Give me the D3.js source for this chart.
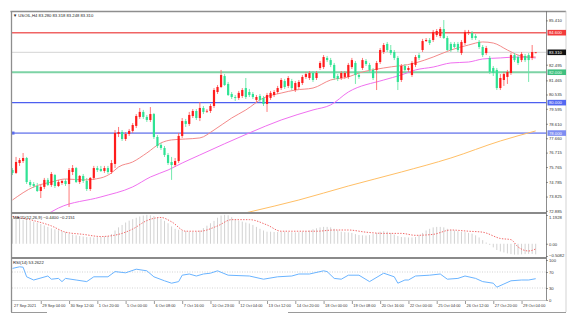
<!DOCTYPE html>
<html>
<head>
<meta charset="utf-8">
<script src="https://cdn.jsdelivr.net/npm/d3@7"></script>
<style>
  html, body { margin: 0; padding: 0; background: #ffffff; }
  svg { display: block; font-family: "Liberation Sans", Arial, sans-serif; }
</style>
</head>
<body>
<svg id="chart" width="574" height="324"></svg>
<script>
// ---------- data: USOIL H4 candles ----------
const symbolName = "USOIL,H4";

const opens = [75.57,75.38,76.03,76.16,76.36,74.78,74.65,74.52,74.19,74.46,
 74.92,74.59,75.24,74.52,74.72,74.85,74.65,75.44,75.70,74.78,
 75.18,74.85,74.32,75.05,75.70,75.64,75.51,75.70,75.44,75.97,
 77.94,78.07,77.61,77.94,78.14,78.47,79.06,79.39,79.06,78.86,
 79.25,77.74,77.22,77.02,76.56,76.10,75.90,76.16,77.81,78.79,
 78.60,79.12,79.45,78.99,79.65,79.45,79.45,79.78,80.70,81.03,
 81.75,81.23,80.57,80.37,80.31,80.44,80.96,80.70,80.57,80.18,
 80.44,80.31,79.91,80.31,80.50,80.70,80.96,81.42,81.10,81.42,
 80.83,81.03,81.29,81.69,81.62,81.95,81.62,82.28,82.34,82.94,
 82.80,82.48,81.75,81.62,81.69,81.69,82.34,82.61,81.82,82.28,
 82.74,82.48,82.15,82.15,82.67,83.33,83.86,83.46,83.33,82.94,
 81.49,82.41,82.15,81.82,82.48,83.13,83.46,84.05,84.12,84.12,
 84.45,84.38,84.84,84.25,83.86,83.86,83.86,83.26,83.92,84.58,
 84.58,84.38,83.99,83.66,83.26,82.94,82.28,82.15,80.96,81.49,
 81.69,81.95,83.13,83.00,82.80,83.07,83.13,82.94,83.28];

const highs = [75.70,76.43,76.36,76.69,76.43,74.92,74.78,74.72,74.59,75.05,
 75.05,75.44,75.31,74.92,74.92,74.98,75.70,75.90,75.77,75.24,
 75.31,75.05,75.11,75.84,75.84,75.84,75.84,75.84,76.23,78.20,
 78.40,78.20,78.07,78.27,78.66,79.25,79.65,79.52,79.19,79.71,
 79.32,77.87,77.35,77.15,76.69,76.43,76.36,78.01,78.99,78.93,
 79.39,79.58,79.58,80.04,79.78,79.58,79.91,80.96,81.16,82.15,
 81.88,81.36,80.70,80.50,80.77,80.96,81.62,80.90,80.70,80.50,
 80.57,80.44,80.64,80.77,80.83,81.10,81.62,81.56,81.75,81.56,
 81.42,81.49,81.82,82.02,82.08,82.08,82.08,82.74,83.13,83.07,
 82.94,82.61,81.88,82.08,82.08,82.61,82.94,82.74,82.02,82.94,
 82.87,82.61,82.28,82.74,83.59,83.92,83.99,83.79,83.46,83.07,
 82.54,82.54,82.41,82.74,83.13,83.26,84.19,84.25,84.25,84.78,
 84.84,84.97,85.43,84.38,83.99,83.99,83.99,84.12,84.78,84.78,
 84.71,84.51,84.12,83.79,83.73,83.07,82.41,82.28,81.88,82.02,
 82.15,83.26,83.26,83.13,83.33,83.20,83.26,83.79,83.318];

const lows = [75.24,75.31,75.84,76.03,74.65,74.46,74.39,74.13,73.73,74.32,
 74.52,74.46,74.39,74.46,74.59,74.52,73.14,75.24,74.72,74.65,
 74.72,74.19,74.19,74.92,75.44,75.44,75.38,75.31,75.31,75.70,
 77.74,77.48,77.48,77.81,78.01,78.33,78.93,78.93,78.73,78.73,
 77.61,77.02,76.89,76.43,75.90,74.92,75.77,76.03,77.68,78.40,
 78.47,78.99,78.86,78.79,79.25,79.32,79.32,79.65,80.57,80.96,
 81.10,80.44,80.24,80.11,80.18,80.31,80.24,80.37,80.24,80.04,
 80.04,79.78,79.39,80.18,80.37,80.57,80.83,80.90,80.96,80.83,
 80.70,80.90,81.16,81.56,81.49,81.36,81.49,82.15,82.21,82.67,
 82.34,81.49,81.42,81.49,81.56,81.56,82.21,81.23,81.56,82.15,
 82.41,82.02,81.49,80.83,82.54,83.20,83.33,83.13,82.80,80.83,
 81.36,82.02,82.02,81.69,82.34,82.80,83.33,83.99,83.79,83.99,
 84.32,84.25,84.19,83.40,83.33,83.59,83.33,83.13,83.79,84.45,
 84.12,84.12,83.53,83.00,83.13,81.88,81.75,80.83,80.83,81.10,
 81.23,81.82,82.67,82.48,82.67,82.67,81.36,82.80,83.248];

const closes = [75.38,76.10,76.23,76.36,74.78,74.59,74.52,74.19,74.46,74.92,
 74.59,75.31,74.52,74.78,74.85,74.65,75.57,75.70,74.78,75.18,
 74.85,74.32,75.05,75.70,75.57,75.51,75.70,75.44,76.03,78.01,
 78.07,77.61,77.94,78.14,78.53,79.12,79.39,79.06,78.86,79.25,
 77.74,77.15,77.02,76.56,76.03,75.90,76.16,77.81,78.79,78.60,
 79.19,79.45,78.99,79.65,79.39,79.46,79.78,80.83,81.03,81.82,
 81.16,80.50,80.37,80.31,80.64,80.83,80.37,80.50,80.37,80.37,
 80.18,79.91,80.50,80.64,80.70,80.96,81.49,81.03,81.62,80.96,
 81.29,81.36,81.69,81.88,81.95,81.49,81.95,82.61,83.00,82.80,
 82.48,81.62,81.56,81.95,81.95,82.48,82.80,81.82,81.69,82.80,
 82.54,82.15,81.62,82.61,83.46,83.79,83.46,83.26,82.94,81.36,
 82.41,82.15,82.28,82.61,83.00,82.94,84.05,84.12,83.92,84.65,
 84.71,84.84,84.25,83.46,83.46,83.66,83.46,83.99,84.65,84.65,
 84.25,84.25,83.66,83.13,83.59,82.02,81.95,80.96,81.62,81.88,
 82.02,83.13,82.80,82.61,83.20,82.80,82.80,83.33,83.310];

// moving averages (bar index, price)
const maFastIdx = [0,6,11,15,20,25,28,30,34,38,42,45,49,53,57,62,66,71,76,80,85,90,95,98,105,114,119,124,129,133,136,140,143,146,148];
const maFastVal = [73.60,74.46,74.78,74.98,74.92,75.05,75.38,75.77,76.10,76.69,77.35,77.55,77.61,77.68,78.20,78.99,79.52,80.31,80.63,80.83,80.96,81.49,81.69,81.95,82.28,82.61,83.00,83.46,83.79,83.99,83.92,83.46,83.13,83.00,83.00];
const maSlowIdx = [9,13,25,34,39,44,48,53,67,76,85,90,95,105,110,114,119,124,129,133,138,143,148];
const maSlowVal = [72.55,73.07,73.80,74.46,75.11,75.57,76.03,76.56,78.01,78.86,79.52,79.85,80.70,81.49,81.82,82.15,82.34,82.61,82.67,82.87,82.94,83.00,82.94];
const maLongIdx = [61,67,81,95,110,124,138,148];
const maLongVal = [72.48,72.81,73.60,74.52,75.44,76.36,77.48,78.14];

// horizontal price levels
const levelValues = [84.600, 82.000, 80.000, 78.000];

// MACD(12,26,9): main line per bar, signal line samples
const macdMain = [1.04,1.05,1.03,1.00,0.98,0.95,0.92,
 0.88,0.82,0.76,0.70,0.64,0.60,0.56,0.52,0.48,
 0.42,0.38,0.35,0.32,0.30,0.28,0.27,0.26,0.27,0.28,0.30,0.32,
 0.40,0.55,0.68,0.78,0.88,0.96,1.02,
 1.08,1.13,1.17,1.20,1.18,1.15,1.10,1.04,
 0.95,0.85,0.72,0.62,0.58,
 0.55,0.52,0.50,0.49,0.50,0.55,
 0.65,0.75,0.85,0.95,1.08,
 1.17,1.20,1.18,1.10,
 1.02,0.96,0.92,0.88,0.84,
 0.78,0.70,0.62,0.55,0.50,
 0.50,0.49,0.49,0.50,0.50,0.49,0.48,
 0.47,0.48,0.50,0.52,0.55,0.60,0.64,
 0.68,0.70,0.70,0.68,0.62,0.55,
 0.50,0.48,0.47,0.45,0.40,0.36,
 0.35,0.34,0.36,0.40,0.45,0.50,
 0.52,0.50,0.45,0.38,0.32,0.28,
 0.27,0.26,0.26,0.28,0.35,0.45,0.55,
 0.62,0.68,0.70,0.70,0.68,
 0.62,0.58,0.55,0.52,0.50,0.48,0.45,0.42,
 0.35,0.26,0.15,0.05,
 -0.05,-0.15,-0.26,-0.32,
 -0.36,-0.40,-0.43,-0.45,-0.45,-0.44,-0.43,-0.42,-0.42,-0.44];
const signalIdx = [0,6,11,15,20,25,30,34,38,42,45,49,53,58,62,67,72,76,81,86,91,95,100,105,110,114,119,124,129,133,138,141,143,146,148];
const signalVal = [1.13,0.96,0.74,0.48,0.39,0.30,0.39,0.61,0.96,1.09,0.91,0.52,0.52,0.74,1.00,1.00,0.78,0.52,0.52,0.52,0.57,0.57,0.48,0.43,0.43,0.35,0.39,0.57,0.52,0.48,0.22,0.17,-0.13,-0.30,-0.2151];
const macdAxisValues = [1.1928, 0.00, -0.5082];

// RSI(14) samples
const rsiIdx = [0,2,3,4,6,10,11,13,14,15,18,21,23,27,29,32,35,38,40,43,45,47,48,50,52,54,56,58,61,67,71,75,79,81,84,88,89,91,93,95,98,101,105,108,109,111,112,114,118,121,123,126,128,131,133,136,137,139,141,144,146,148];
const rsiVal = [79,83,82,58,50,60,52,54,46,54,50,46,58,58,71,68,77,73,58,48,42,46,62,65,60,65,67,73,62,60,52,58,60,65,65,73,71,54,52,62,62,46,67,58,42,50,50,60,62,65,52,54,60,54,46,42,32,40,48,50,50,53.2622];
const rsiLevels = [70, 30];
const rsiAxisValues = [100, 70, 30, 0];

// price scale labels (the two under the price boxes are left out) and time labels
const priceTicks = [85.410, 82.495, 81.465, 80.535, 79.595, 78.610, 77.660, 76.715, 75.765, 74.785, 73.825, 72.885];
const dateIdx = [0,8,16,24,32,40,48,56,64,72,80,88,96,104,112,120,128,136,144];
const dateLabels = ["27 Sep 2021","29 Sep 04:00","30 Sep 12:00","1 Oct 20:00","5 Oct 00:00","6 Oct 08:00","7 Oct 16:00","10 Oct 23:00","12 Oct 04:00","13 Oct 12:00","14 Oct 20:00","18 Oct 00:00","19 Oct 08:00","20 Oct 16:00","22 Oct 00:00","25 Oct 04:00","26 Oct 12:00","27 Oct 20:00","29 Oct 04:00"];

// ---------- layout ----------
const svg = d3.select("#chart");
const L = 12, R = 546;
const mainTop = 12, mainBot = 212;
const macdTop = 214, macdBot = 257;
const rsiTop = 259, rsiBot = 300;
const n = closes.length;

const x = d3.scaleLinear().domain([0, n - 1]).range([12.5, 535.7]);
const yMain = d3.scaleLinear().domain([72.81, 85.96]).range([mainBot, mainTop]);
const yMacd = d3.scaleLinear().domain([-0.5082, 1.1928]).range([256, 215]);
const yRsi = d3.scaleLinear().domain([0, 100]).range([rsiBot, rsiTop + 1]);

const defs = svg.append("defs");
function clip(id, y0, y1) {
  defs.append("clipPath").attr("id", id).append("rect")
    .attr("x", L).attr("y", y0).attr("width", R - L).attr("height", y1 - y0);
  return "url(#" + id + ")";
}
const gMain = svg.append("g").attr("clip-path", clip("cMain", mainTop, mainBot));
const gMacd = svg.append("g").attr("clip-path", clip("cMacd", macdTop, macdBot));
const gRsi = svg.append("g").attr("clip-path", clip("cRsi", rsiTop, rsiBot));

// ---------- main panel ----------
const last = n - 1;
// current price line
gMain.append("line").attr("x1", L).attr("x2", R)
  .attr("y1", yMain(closes[last])).attr("y2", yMain(closes[last]))
  .attr("stroke", "#d4d4d4").attr("stroke-width", 1);

const levelStyle = [
  {stroke: "#f06464", w: 1.6, op: 1, box: "#f23b3b", txt: "#ffffff"},
  {stroke: "#6fcf9c", w: 2.2, op: 0.9, box: "#3fbf7f", txt: "#e8fff2"},
  {stroke: "#4d5ff0", w: 1.1, op: 1, box: "#5368f2", txt: "#ffffff"},
  {stroke: "#8c98f0", w: 1.8, op: 1, box: "#7d8cf2", txt: "#ffffff"}
];
levelValues.forEach((v, k) => {
  gMain.append("line").attr("x1", L).attr("x2", R)
    .attr("y1", yMain(v)).attr("y2", yMain(v))
    .attr("stroke", levelStyle[k].stroke).attr("stroke-width", levelStyle[k].w)
    .attr("opacity", levelStyle[k].op);
});
// anchor square on the lowest level
gMain.append("rect").attr("x", L).attr("y", yMain(levelValues[3]) - 1.5)
  .attr("width", 2.5).attr("height", 3).attr("fill", "#5b6cf0");

// moving averages
function maLine(idx, vals, color, g, scale) {
  const pts = idx.map((d, k) => [d, vals[k]]);
  g.append("path").datum(pts)
    .attr("d", d3.line().x(d => x(d[0])).y(d => scale(d[1])).curve(d3.curveMonotoneX))
    .attr("fill", "none").attr("stroke", color).attr("stroke-width", 1);
}
maLine(maLongIdx, maLongVal, "#ffbf66", gMain, yMain);
maLine(maSlowIdx, maSlowVal, "#f070f0", gMain, yMain);
maLine(maFastIdx, maFastVal, "#f48a8a", gMain, yMain);

// candles
const bars = d3.range(n).map(i => ({i, o: opens[i], h: highs[i], l: lows[i], c: closes[i]}));
const isUp = d => d.c >= d.o;
gMain.selectAll("line.wick").data(bars).join("line").attr("class", "wick")
  .attr("x1", d => x(d.i)).attr("x2", d => x(d.i))
  .attr("y1", d => yMain(d.h)).attr("y2", d => yMain(d.l))
  .attr("stroke", d => isUp(d) ? "#ff6a6a" : "#66e6a6").attr("stroke-width", 0.9);
gMain.selectAll("rect.body").data(bars).join("rect").attr("class", "body")
  .attr("x", d => x(d.i) - 1.1).attr("width", 2.2)
  .attr("y", d => yMain(Math.max(d.o, d.c)))
  .attr("height", d => Math.max(0.8, Math.abs(yMain(d.o) - yMain(d.c))))
  .attr("fill", d => isUp(d) ? "#ff1c1c" : "#2fe394");

// ---------- MACD panel ----------
gMacd.selectAll("line.hist").data(macdMain).join("line").attr("class", "hist")
  .attr("x1", (d, i) => x(i)).attr("x2", (d, i) => x(i))
  .attr("y1", yMacd(0)).attr("y2", d => yMacd(d))
  .attr("stroke", "#d2d2d2").attr("stroke-width", 1);
gMacd.append("path").datum(signalIdx.map((d, k) => [d, signalVal[k]]))
  .attr("d", d3.line().x(d => x(d[0])).y(d => yMacd(d[1])).curve(d3.curveMonotoneX))
  .attr("fill", "none").attr("stroke", "#f26a6a").attr("stroke-width", 1)
  .attr("stroke-dasharray", "1.4,1.4");

// ---------- RSI panel ----------
rsiLevels.forEach(v => {
  gRsi.append("line").attr("x1", L).attr("x2", R).attr("y1", yRsi(v)).attr("y2", yRsi(v))
    .attr("stroke", "#c8c8c8").attr("stroke-width", 0.8).attr("stroke-dasharray", "1,1.5");
});
gRsi.append("path").datum(rsiIdx.map((d, k) => [d, rsiVal[k]]))
  .attr("d", d3.line().x(d => x(d[0])).y(d => yRsi(d[1])))
  .attr("fill", "none").attr("stroke", "#6ab4ff").attr("stroke-width", 1);

// ---------- frame ----------
const frame = svg.append("g");
frame.append("line").attr("x1", 10.5).attr("x2", 566).attr("y1", 11.5).attr("y2", 11.5)
  .attr("stroke", "#8e8e8e").attr("stroke-width", 1.3);
frame.append("line").attr("x1", 11.5).attr("x2", 11.5).attr("y1", 11).attr("y2", 312)
  .attr("stroke", "#8e8e8e").attr("stroke-width", 1.3);
frame.append("line").attr("x1", 566).attr("x2", 566).attr("y1", 11).attr("y2", 312)
  .attr("stroke", "#c8c8c8").attr("stroke-width", 0.8);
[[11, 47], [288, 566]].forEach(s => {
  frame.append("line").attr("x1", s[0]).attr("x2", s[1]).attr("y1", 312.5).attr("y2", 312.5)
    .attr("stroke", "#9a9a9a").attr("stroke-width", 1);
});
frame.append("line").attr("x1", R + 0.5).attr("x2", R + 0.5).attr("y1", 11).attr("y2", rsiBot)
  .attr("stroke", "#707070").attr("stroke-width", 0.8);
[mainBot + 1, macdBot + 1].forEach(yy => {
  frame.append("line").attr("x1", L - 1).attr("x2", R + 1).attr("y1", yy).attr("y2", yy)
    .attr("stroke", "#8a8a8a").attr("stroke-width", 2);
});
frame.append("line").attr("x1", L).attr("x2", R).attr("y1", rsiBot + 0.5).attr("y2", rsiBot + 0.5)
  .attr("stroke", "#b8b8b8").attr("stroke-width", 0.8);

// ---------- axes ----------
const fs = 4.2;
function styleAxis(g) {
  g.select(".domain").remove();
  g.selectAll(".tick line").attr("stroke", "#555").attr("stroke-width", 0.6);
  g.selectAll(".tick text").attr("fill", "#333").attr("font-size", fs)
    .attr("font-family", "\"Liberation Sans\", Arial, sans-serif");
}
const priceAxis = svg.append("g").attr("transform", `translate(${R},0)`)
  .call(d3.axisRight(yMain).tickValues(priceTicks).tickSize(2).tickPadding(1).tickFormat(d3.format(".3f")));
styleAxis(priceAxis);

const macdAxis = svg.append("g").attr("transform", `translate(${R},0)`)
  .call(d3.axisRight(yMacd).tickValues(macdAxisValues).tickSize(2).tickPadding(1)
    .tickFormat(d => d === 0 ? "0.00" : d3.format(".4f")(d)));
styleAxis(macdAxis);
macdAxis.selectAll(".tick text").attr("dy", (d, i) => i === 0 ? "0.9em" : (i === 2 ? "0.05em" : "0.32em"));

const rsiAxis = svg.append("g").attr("transform", `translate(${R},0)`)
  .call(d3.axisRight(yRsi).tickValues(rsiAxisValues).tickSize(2).tickPadding(1).tickFormat(d3.format("d")));
styleAxis(rsiAxis);

// price boxes
const boxes = levelValues.map((v, k) => ({v, fill: levelStyle[k].box, txt: levelStyle[k].txt}))
  .concat([{v: closes[last], fill: "#111111", txt: "#ffffff"}]);
const boxG = svg.append("g");
boxes.forEach(b => {
  const yy = yMain(b.v);
  boxG.append("rect").attr("x", R + 1.5).attr("y", yy - 2.8).attr("width", 18.5).attr("height", 5.6)
    .attr("fill", b.fill);
  boxG.append("text").attr("x", R + 3).attr("y", yy).attr("dy", "0.35em")
    .attr("font-size", fs).attr("fill", b.txt).text(d3.format(".3f")(b.v));
});

// time axis
const timeAxis = svg.append("g").attr("transform", `translate(0,${rsiBot + 1})`)
  .call(d3.axisBottom(x).tickValues(dateIdx).tickSize(3).tickFormat((d, i) => dateLabels[i]));
styleAxis(timeAxis);
timeAxis.selectAll(".tick text").attr("text-anchor", "start").attr("dx", 1).attr("y", 3).attr("font-size", 3.9);
timeAxis.selectAll(".tick").filter(d => d === 0).select("line").remove();

// ---------- panel captions ----------
const cap = svg.append("g").attr("font-size", fs).attr("fill", "#222");
cap.append("text").attr("x", 13).attr("y", 16.5)
  .text("\u25BC " + symbolName + " " + [opens[last], highs[last], lows[last], closes[last]].map(d3.format(".3f")).join(" "));
cap.append("text").attr("x", 13).attr("y", 219)
  .text("MACD(12,26,9) " + d3.format(".4f")(macdMain[last]) + " " + d3.format(".4f")(signalVal[signalVal.length - 1]));
cap.append("text").attr("x", 13).attr("y", 264)
  .text("RSI(14) " + d3.format(".4f")(rsiVal[rsiVal.length - 1]));
</script>
</body>
</html>
